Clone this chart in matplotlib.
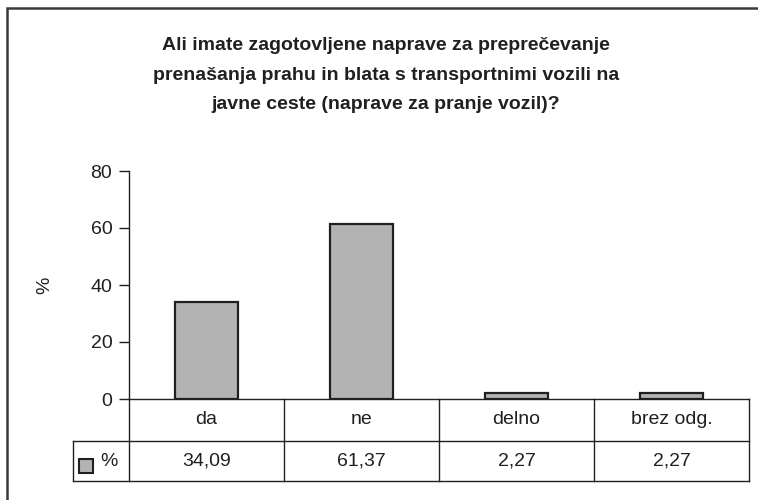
import matplotlib.pyplot as plt
from matplotlib.patches import Rectangle

plt.rcParams['font.family'] = ['Liberation Sans', 'DejaVu Sans']

# podatki
kategorije = ["da", "ne", "delno", "brez odg."]
odstotki = [34.09, 61.37, 2.27, 2.27]
vrednosti_txt = ["34,09", "61,37", "2,27", "2,27"]
serija = "%"
naslov = ("Ali imate zagotovljene naprave za preprečevanje\n"
          "prenašanja prahu in blata s transportnimi vozili na\n"
          "javne ceste (naprave za pranje vozil)?")

barva_txt = "#231f20"
barva_stolpca = "#b3b3b3"
W, H = 758, 500
fs = 14

fig = plt.figure(figsize=(W / 100, H / 100), dpi=100)
ax = fig.add_axes([129 / W, (H - 399) / H, 620 / W, 228 / H])

x = range(len(kategorije))
ax.bar(x, odstotki, width=0.41, color=barva_stolpca, edgecolor=barva_txt, linewidth=1.6, zorder=3)

ax.set_xlim(-0.5, len(kategorije) - 0.5)
ax.set_ylim(0, 80)
ax.set_yticks([0, 20, 40, 60, 80])
ax.tick_params(axis="y", direction="out", length=7, width=1, color=barva_txt,
               labelsize=fs, labelcolor=barva_txt, pad=5)
ax.set_xticks([])
for s in ["top", "right"]:
    ax.spines[s].set_visible(False)
for s in ["left", "bottom"]:
    ax.spines[s].set_color(barva_txt)
    ax.spines[s].set_linewidth(1)

# tabela pod grafom
tr = ax.get_xaxis_transform()
y1 = -42 / 228
y2 = -82 / 228
levo = (73 - 129) / 155 - 0.5
kw = dict(transform=tr, clip_on=False, color=barva_txt, lw=1)
for xv in [i - 0.5 for i in range(len(kategorije) + 1)]:
    ax.plot([xv, xv], [0, y2], **kw)
ax.plot([levo, 3.5], [y1, y1], **kw)
ax.plot([levo, 3.5], [y2, y2], **kw)
ax.plot([levo, levo], [y1, y2], **kw)

for i, (k, v) in enumerate(zip(kategorije, vrednosti_txt)):
    ax.text(i, y1 / 2, k, transform=tr, ha="center", va="center", fontsize=fs, color=barva_txt)
    ax.text(i, (y1 + y2) / 2, v, transform=tr, ha="center", va="center", fontsize=fs, color=barva_txt)

# legenda v tabeli
fig.patches.append(Rectangle((79 / W, (H - 473) / H), 14 / W, 14 / H, transform=fig.transFigure,
                             facecolor=barva_stolpca, edgecolor=barva_txt, lw=1.5))
fig.text(109 / W, (H - 461) / H, serija, ha="center", va="center", fontsize=fs, color=barva_txt)

fig.text(45 / W, (H - 285) / H, "%", rotation=90, ha="center", va="center", fontsize=fs, color=barva_txt)

fig.text(386 / W, (H - 75) / H, naslov, ha="center", va="center", fontsize=14,
         fontweight="bold", color=barva_txt, linespacing=1.95)

# okvir
fig.patches.append(Rectangle((7 / W, -0.02), 1.05, (H - 8) / H + 0.02, transform=fig.transFigure,
                             facecolor="none", edgecolor="#3a3a3a", lw=1.8))

fig.savefig("out.png", dpi=100)
